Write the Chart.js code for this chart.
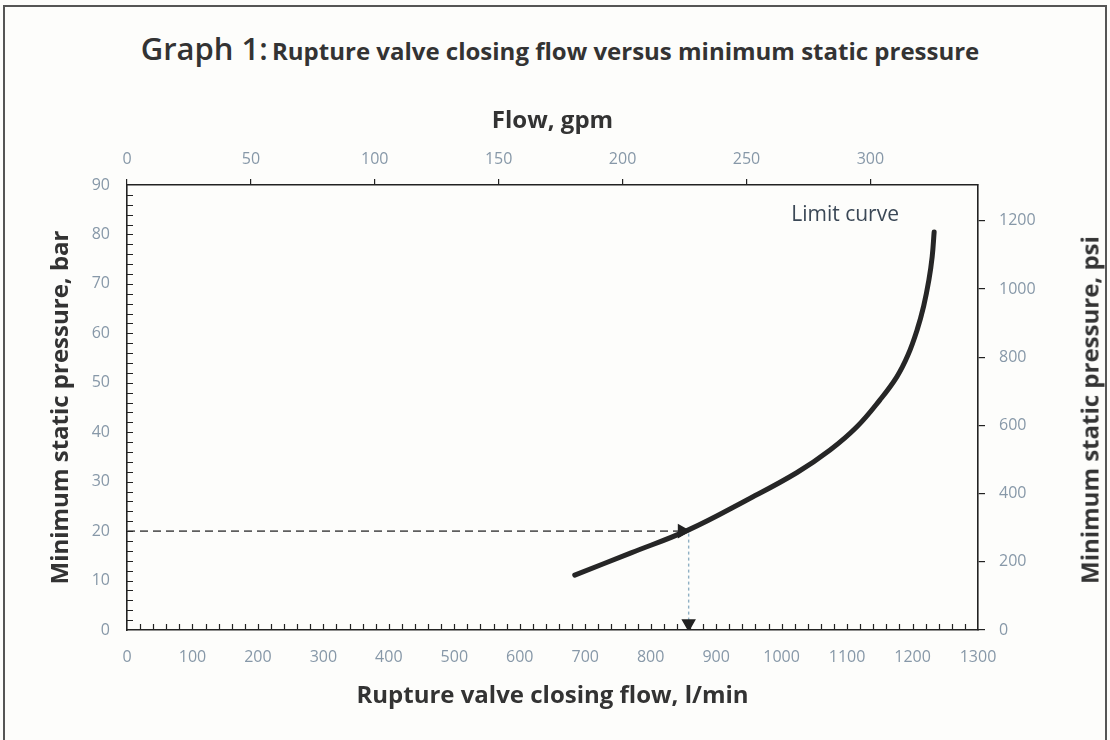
<!DOCTYPE html>
<html>
<head>
<meta charset="utf-8">
<script src="https://cdn.jsdelivr.net/npm/chart.js@4.4.1/dist/chart.umd.min.js"></script>
<style>
  body { margin: 0; background: #fdfdfb; }
  #wrap { position: relative; width: 1110px; height: 740px; overflow: hidden; }
  #frame { position: absolute; left: 3px; top: 5px; width: 1100px; height: 760px; border: 2px solid #555; border-bottom: none; }
  #title { position: absolute; left: 0; width: 1120px; top: 27px; text-align: center; color: #333;
           font-family: "Open Sans", sans-serif; white-space: nowrap; }
  #title .big { font-size: 31px; font-weight: 600; }
  #title .rest { font-size: 24px; font-weight: 700; }
  #ytitle2 { position: absolute; left: 1089px; top: 410px; transform: translate(-50%, -50%) rotate(-90deg);
             font: bold 24px "Open Sans", sans-serif; color: #333; white-space: nowrap; }
  canvas { position: absolute; left: 0; top: 0; }
</style>
</head>
<body>
<div id="wrap">
  <div id="frame"></div>
  <div id="title"><span class="big">Graph 1:</span> <span class="rest">Rupture valve closing flow versus minimum static pressure</span></div>
  <canvas id="chart" width="1110" height="740"></canvas>
  <div id="ytitle2">Minimum static pressure, psi</div>
</div>
<script>
// limit curve (l/min vs bar)
var flowLpm = [684, 770, 857, 947, 1023, 1074, 1115, 1150, 1176, 1193, 1207, 1217, 1225, 1230, 1233];
var pressureBar = [11.1, 15.6, 20.2, 26.3, 31.8, 36.4, 41.1, 46.5, 51.2, 55.6, 60.7, 65.5, 70.8, 75.5, 80.5];

// reading guide: 20 bar -> about 858 l/min
var guideHX = [0, 848];
var guideHY = [20, 20];
var guideVX = [858, 858];
var guideVY = [19.5, 1.3];

var LPM_PER_GPM = 3.78541;
var BAR_TO_PSI = 14.5038;

var tickColor = '#8798a8';
var tickFont = { family: 'Open Sans', size: 16 };
var titleFont = { family: 'Open Sans', size: 24, weight: 'bold' };

function pts(xs, ys) {
  return xs.map(function (v, i) { return { x: v, y: ys[i] }; });
}

function plain(v) { return String(v); }

// inward minor ticks on bottom and left axes, plus the curve label
var extras = {
  id: 'extras',
  afterDraw: function (chart) {
    var ctx = chart.ctx, a = chart.chartArea, x = chart.scales.x, y = chart.scales.y;
    ctx.save();
    ctx.strokeStyle = '#222';
    ctx.lineWidth = 1.2;
    ctx.beginPath();
    for (var v = 20; v < 1300; v += 20) {
      var px = Math.round(x.getPixelForValue(v)) + 0.5;
      ctx.moveTo(px, a.bottom);
      ctx.lineTo(px, a.bottom - 6);
    }
    for (var b = 2; b < 90; b += 2) {
      var py = Math.round(y.getPixelForValue(b)) + 0.5;
      ctx.moveTo(a.left, py);
      ctx.lineTo(a.left + 6, py);
    }
    ctx.stroke();
    ctx.fillStyle = '#3b4856';
    ctx.font = '21px "Open Sans"';
    ctx.textAlign = 'center';
    ctx.textBaseline = 'middle';
    ctx.fillText('Limit curve', x.getPixelForValue(1097), y.getPixelForValue(84));
    ctx.restore();
  }
};

function fixSize(prop, val) {
  return function (s) { s[prop] = val; };
}

new Chart(document.getElementById('chart'), {
  type: 'scatter',
  data: {
    datasets: [
      {
        data: pts(guideHX, guideHY),
        showLine: true,
        borderColor: '#5e5e5e',
        borderWidth: 1.6,
        borderDash: [8, 5],
        pointRadius: [0, 7],
        pointStyle: 'triangle',
        rotation: 90,
        pointBackgroundColor: '#222',
        pointBorderColor: '#222'
      },
      {
        data: pts(guideVX, guideVY),
        showLine: true,
        borderColor: '#8fb0c4',
        borderWidth: 1.4,
        borderDash: [3, 3],
        pointRadius: [0, 7],
        pointStyle: 'triangle',
        rotation: 180,
        pointBackgroundColor: '#222',
        pointBorderColor: '#222'
      },
      {
        data: pts(flowLpm, pressureBar),
        showLine: true,
        borderColor: '#262626',
        borderWidth: 5,
        borderCapStyle: 'round',
        tension: 0.4,
        pointRadius: 0
      }
    ]
  },
  options: {
    responsive: false,
    animation: false,
    layout: { padding: 0 },
    plugins: { legend: { display: false }, tooltip: { enabled: false } },
    scales: {
      x: {
        type: 'linear', position: 'bottom', min: 0, max: 1300,
        afterFit: fixSize('height', 110),
        ticks: { stepSize: 100, color: tickColor, font: tickFont, padding: 18, maxRotation: 0, callback: plain },
        grid: { display: false, drawTicks: false },
        border: { display: true, color: '#222', width: 1.6 },
        title: { display: true, text: 'Rupture valve closing flow, l/min', color: '#333', font: titleFont, padding: { bottom: 29 } }
      },
      x2: {
        type: 'linear', position: 'top', min: 0, max: 1300 / LPM_PER_GPM,
        afterFit: fixSize('height', 185),
        afterBuildTicks: function (s) { s.ticks = s.ticks.filter(function (t) { return t.value % 50 === 0; }); },
        ticks: { stepSize: 50, includeBounds: false, color: tickColor, font: tickFont, padding: 10, maxRotation: 0, callback: plain },
        grid: { drawOnChartArea: false, drawTicks: true, tickLength: 6, color: '#222', lineWidth: 1.2 },
        border: { display: true, color: '#222', width: 1.6 },
        title: { display: true, text: 'Flow, gpm', color: '#333', font: titleFont, padding: { top: 107 } }
      },
      y: {
        type: 'linear', position: 'left', min: 0, max: 90,
        afterFit: fixSize('width', 127),
        ticks: { stepSize: 10, color: tickColor, font: tickFont, padding: 17, callback: plain },
        grid: { display: false, drawTicks: false },
        border: { display: true, color: '#222', width: 1.6 },
        title: { display: true, text: 'Minimum static pressure, bar', color: '#333', font: titleFont, padding: { top: 47 } }
      },
      y2: {
        type: 'linear', position: 'right', min: 0, max: 90 * BAR_TO_PSI,
        afterFit: fixSize('width', 132),
        afterBuildTicks: function (s) { s.ticks = s.ticks.filter(function (t) { return t.value % 200 === 0; }); },
        ticks: { stepSize: 200, includeBounds: false, color: tickColor, font: tickFont, padding: 14, callback: plain },
        grid: { drawOnChartArea: false, drawTicks: true, tickLength: 7, color: '#222', lineWidth: 1.2 },
        border: { display: true, color: '#222', width: 1.6 },
        title: { display: false }
      }
    }
  },
  plugins: [extras]
});
</script>
</body>
</html>
